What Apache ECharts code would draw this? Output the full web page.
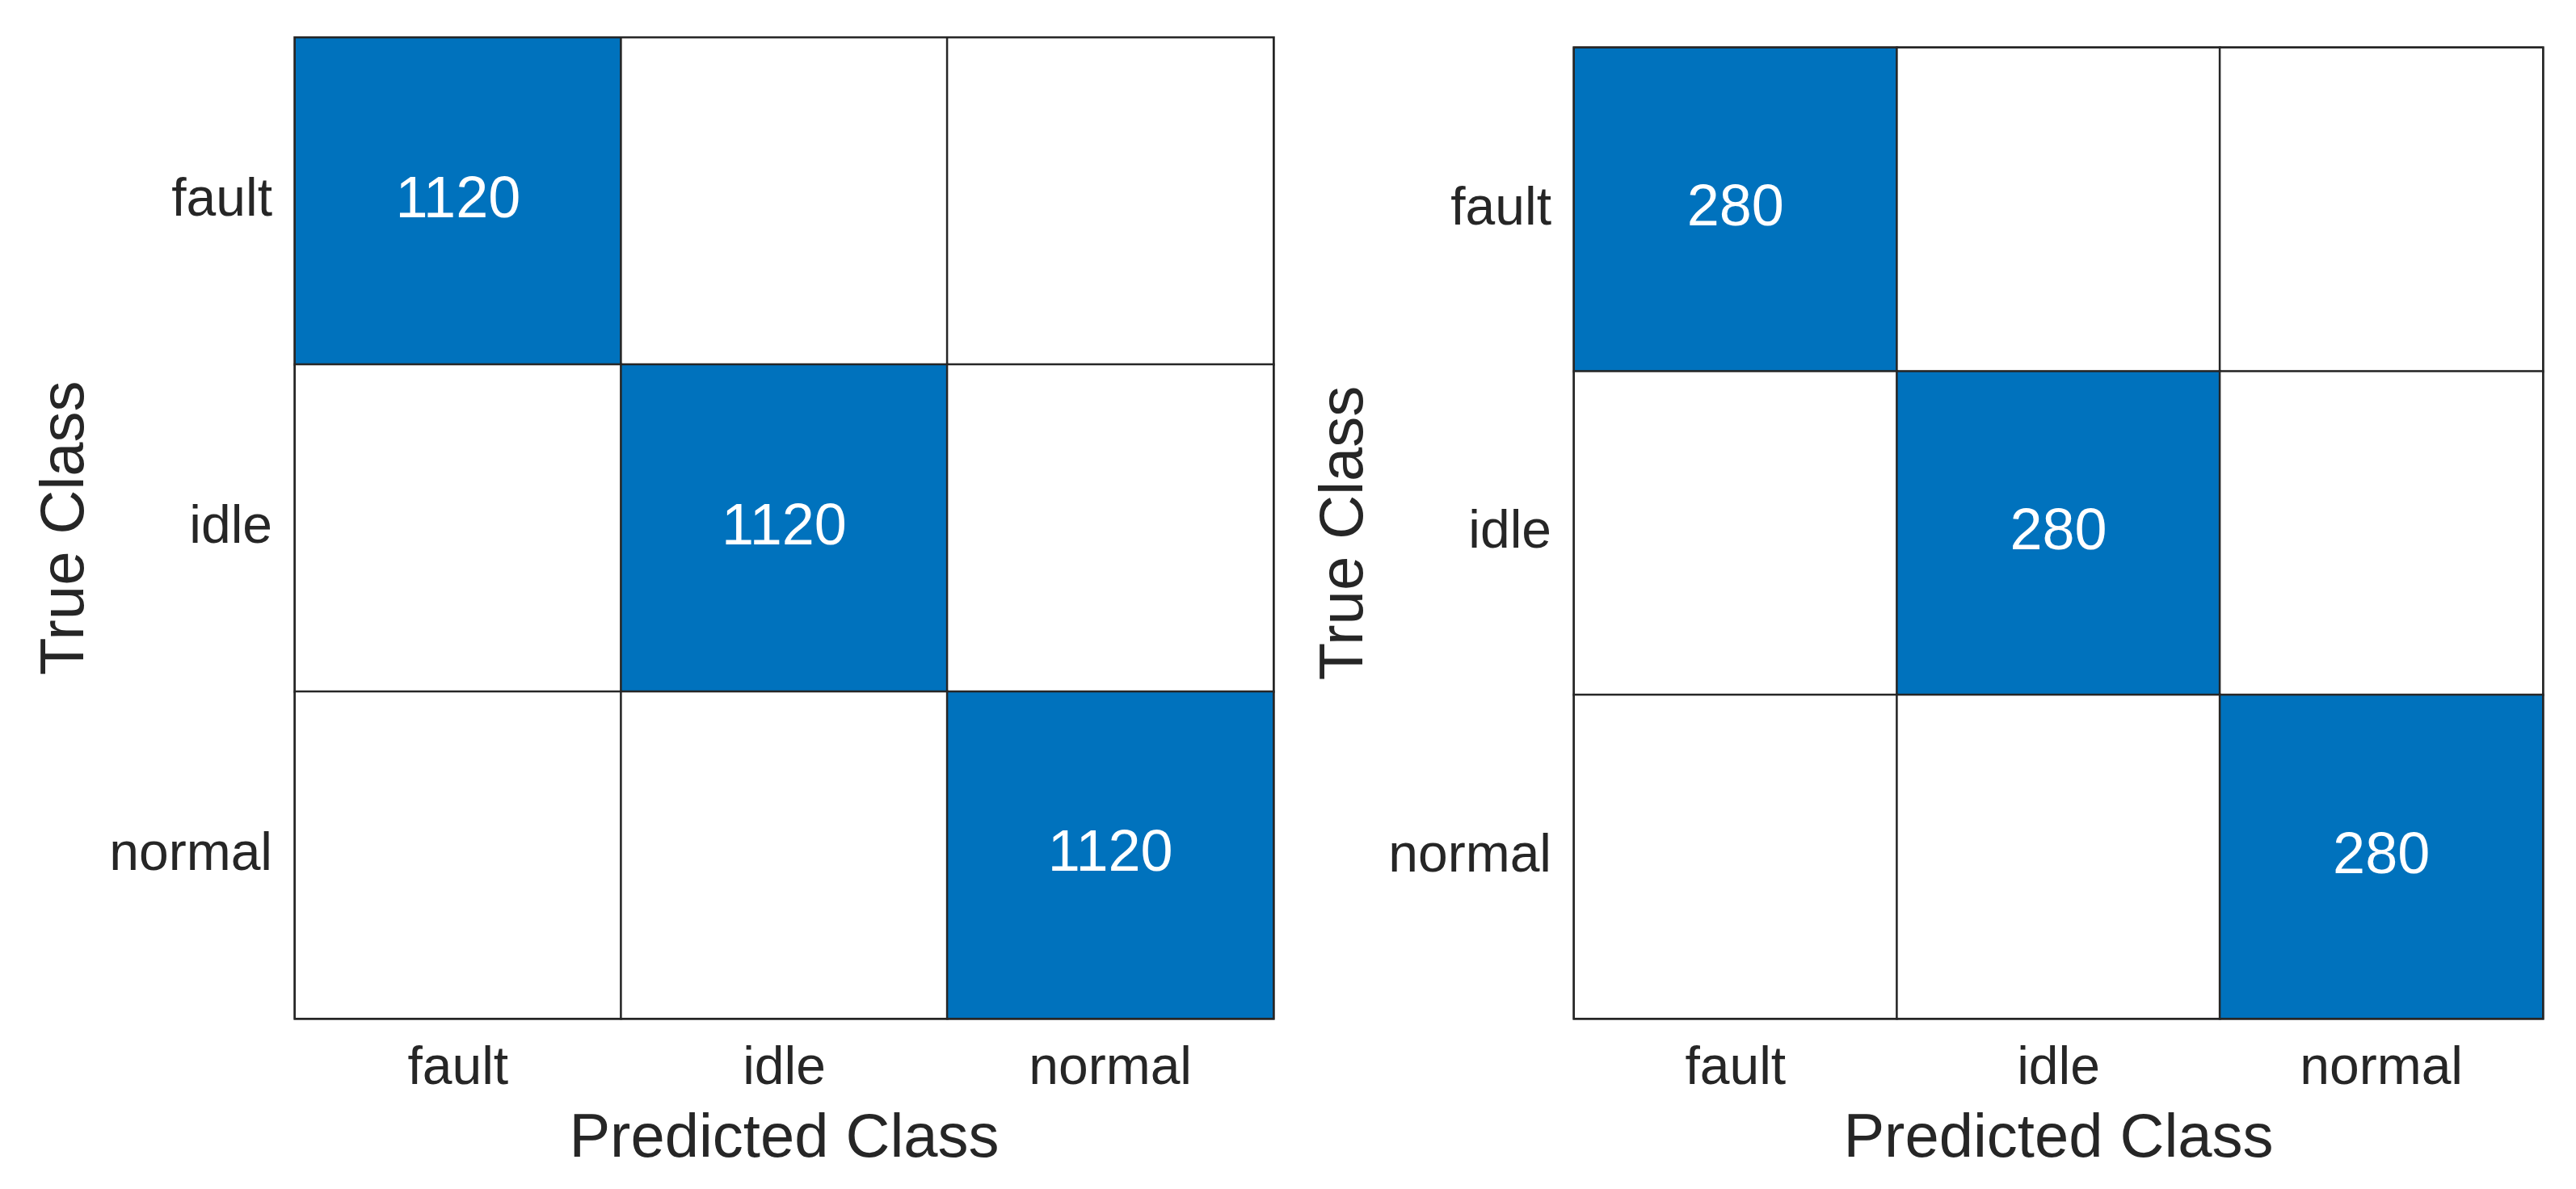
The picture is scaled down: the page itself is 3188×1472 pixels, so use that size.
<!DOCTYPE html>
<html>
<head>
<meta charset="utf-8">
<script src="https://cdn.jsdelivr.net/npm/echarts@6/dist/echarts.min.js"></script>
<style>
  html, body { margin: 0; padding: 0; background: #fff; }
  #chart-container { width: 3188px; height: 1472px; }
</style>
</head>
<body>
<div id="chart-container"></div>
<script>
// class names used on both axes
const classes = ["fault", "idle", "normal"];
// rows = true class, columns = predicted class
const trainCounts = [
  [1120, 0, 0],
  [0, 1120, 0],
  [0, 0, 1120]
];
const testCounts = [
  [280, 0, 0],
  [0, 280, 0],
  [0, 0, 280]
];
const xName = "Predicted Class";
const yName = "True Class";

const font = "Liberation Sans, Arial, Helvetica, sans-serif";
const ink = "#262626";
const blue = "#0072BD";

function toCells(m) {
  var out = [];
  for (var r = 0; r < m.length; r++) {
    for (var c = 0; c < m[r].length; c++) {
      out.push([c, r, m[r][c]]);
    }
  }
  return out;
}

function maxOf(m) {
  var mx = 0;
  m.forEach(function (row) { row.forEach(function (v) { if (v > mx) mx = v; }); });
  return mx;
}

function makeX(i) {
  return {
    type: "category",
    gridIndex: i,
    data: classes,
    name: xName,
    nameLocation: "middle",
    nameGap: 112,
    nameTextStyle: { fontSize: 76, color: ink, fontFamily: font },
    axisTick: { show: false },
    axisLine: { show: false },
    splitLine: { show: false },
    axisLabel: { fontSize: 66, color: ink, fontFamily: font, margin: 30 }
  };
}

function makeY(i) {
  return {
    type: "category",
    gridIndex: i,
    data: classes,
    inverse: true,
    name: yName,
    nameLocation: "middle",
    nameGap: 245,
    nameTextStyle: { fontSize: 76, color: ink, fontFamily: font },
    axisTick: { show: false },
    axisLine: { show: false },
    splitLine: { show: false },
    axisLabel: { fontSize: 66, color: ink, fontFamily: font, margin: 28 }
  };
}

function makeSeries(i, m) {
  return {
    type: "heatmap",
    xAxisIndex: i,
    yAxisIndex: i,
    data: toCells(m),
    itemStyle: { borderColor: ink, borderWidth: 2.5 },
    label: {
      show: true,
      color: "#fff",
      fontSize: 72,
      fontFamily: font,
      formatter: function (p) { return p.value[2] ? String(p.value[2]) : ""; }
    },
    emphasis: { disabled: true }
  };
}

function makeVisual(i, m) {
  return {
    show: false,
    type: "continuous",
    seriesIndex: i,
    dimension: 2,
    min: 0,
    max: maxOf(m),
    inRange: { color: ["#ffffff", blue] }
  };
}

var dom = document.getElementById("chart-container");
var myChart = echarts.init(dom, null, { renderer: "canvas" });

var option = {
  backgroundColor: "#fff",
  animation: false,
  grid: [
    { left: 365, top: 46.5, width: 1211, height: 1214.5, show: true, borderColor: ink, borderWidth: 3, backgroundColor: "#fff" },
    { left: 1948, top: 59, width: 1199, height: 1202, show: true, borderColor: ink, borderWidth: 3, backgroundColor: "#fff" }
  ],
  xAxis: [makeX(0), makeX(1)],
  yAxis: [makeY(0), makeY(1)],
  visualMap: [makeVisual(0, trainCounts), makeVisual(1, testCounts)],
  series: [makeSeries(0, trainCounts), makeSeries(1, testCounts)]
};

myChart.setOption(option);
window.addEventListener("resize", myChart.resize);
</script>
</body>
</html>
